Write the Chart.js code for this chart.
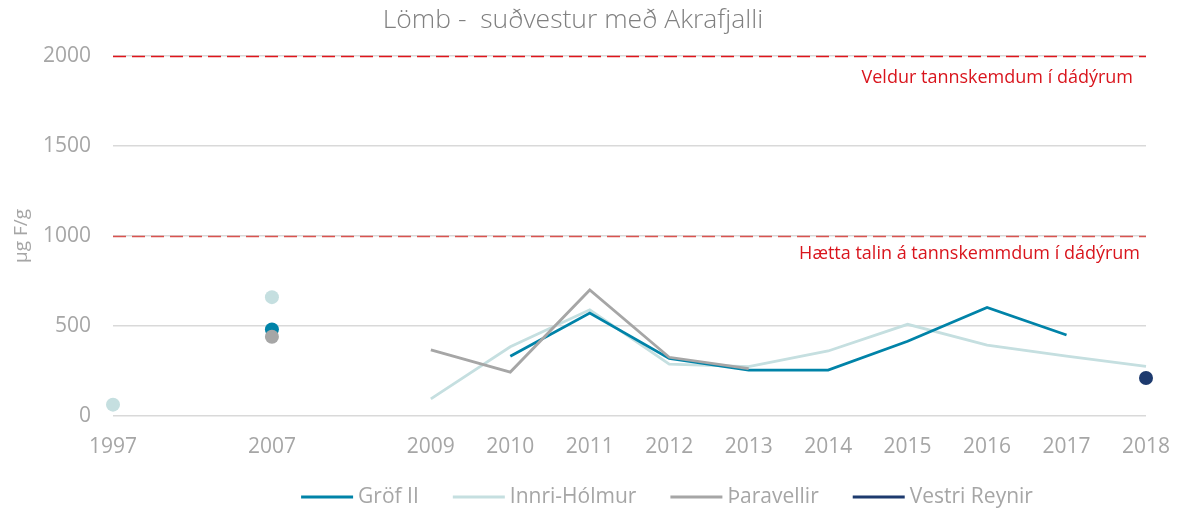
<!DOCTYPE html>
<html>
<head>
<meta charset="utf-8">
<script src="https://cdn.jsdelivr.net/npm/chart.js@4"></script>
<style>
  html, body { margin: 0; padding: 0; background: #fff; }
  #wrap { width: 1180px; height: 510px; }
</style>
</head>
<body>
<div id="wrap"><canvas id="c" width="1180" height="510"></canvas></div>
<script>
// Sampling years (blank slots keep the time spacing between 1997, 2007 and 2009)
const categories = ['1997', '', '2007', '', '2009', '2010', '2011', '2012', '2013', '2014', '2015', '2016', '2017', '2018'];

// Fluoride in lamb bone, µg F/g
const grofII       = [null, null, 480, null, null, 332, 572, 320, 255, 255, 415, 603, 450, null];
const innriHolmur  = [63, null, 660, null, 95, 384, 590, 288, 274, 361, 509, 394, 333, 276];
const tharavellir  = [null, null, 440, null, 367, 244, 700, 326, 263, null, null, null, null, null];
const vestriReynir = [null, null, null, null, null, null, null, null, null, null, null, null, null, 211];

// Reference limits and their captions
const limitValues = [2000, 1000];
const limitLabels = ['Veldur tannskemdum í dádýrum', 'Hætta talin á tannskemmdum í dádýrum'];

const yTicks = [0, 500, 1000, 1500, 2000];

const FONT = "'Open Sans', 'DejaVu Sans', sans-serif";
const GREY = '#a6a6a6';

// Isolated values (no neighbour on either side) are shown as dots
function isolatedRadius(ctx) {
  const d = ctx.dataset.data;
  const i = ctx.dataIndex;
  if (d[i] == null) return 0;
  const prev = i > 0 ? d[i - 1] : null;
  const next = i < d.length - 1 ? d[i + 1] : null;
  return (prev == null && next == null) ? 7 : 0;
}

// Dashed limit lines with captions underneath
const limitLines = {
  id: 'limitLines',
  beforeDatasetsDraw(chart) {
    const { ctx, chartArea, scales } = chart;
    const y = scales.y;
    ctx.save();
    limitValues.forEach((v, k) => {
      const py = Math.round(y.getPixelForValue(v)) + 0.5;
      ctx.beginPath();
      ctx.setLineDash([13, 6]);
      ctx.lineWidth = 1.6;
      ctx.strokeStyle = k === 0 ? '#e0141b' : '#d9534f';
      ctx.moveTo(chartArea.left, py);
      ctx.lineTo(chartArea.right, py);
      ctx.stroke();
    });
    ctx.setLineDash([]);
    ctx.fillStyle = '#d9151d';
    ctx.font = '18px ' + FONT;
    ctx.textAlign = 'right';
    ctx.textBaseline = 'middle';
    ctx.fillText(limitLabels[0], chartArea.right - 13, y.getPixelForValue(limitValues[0]) + 22);
    ctx.fillText(limitLabels[1], chartArea.right - 6, y.getPixelForValue(limitValues[1]) + 18);
    ctx.restore();
  }
};

const series = [
  { label: 'Gröf II', data: grofII, color: '#0083a8', order: 2 },
  { label: 'Innri-Hólmur', data: innriHolmur, color: '#c5dfe0', order: 3 },
  { label: 'Þaravellir', data: tharavellir, color: '#a6a6a6', order: 1 },
  { label: 'Vestri Reynir', data: vestriReynir, color: '#1d3a6e', order: 0 }
];

// Legend row: short line sample followed by the series name
const lineLegend = {
  id: 'lineLegend',
  afterDraw(chart) {
    const { ctx } = chart;
    const sample = 52, gap = 5, spacing = 34, y = 497;
    ctx.save();
    ctx.font = '21px ' + FONT;
    ctx.textBaseline = 'middle';
    ctx.textAlign = 'left';
    const widths = series.map(s => sample + gap + ctx.measureText(s.label).width);
    const total = widths.reduce((a, b) => a + b, 0) + spacing * (series.length - 1);
    let x = 667 - total / 2;
    series.forEach((s, i) => {
      ctx.strokeStyle = s.color;
      ctx.lineWidth = 3;
      ctx.beginPath();
      ctx.moveTo(x, y);
      ctx.lineTo(x + sample, y);
      ctx.stroke();
      ctx.fillStyle = GREY;
      ctx.fillText(s.label, x + sample + gap, y);
      x += widths[i] + spacing;
    });
    ctx.restore();
  }
};

new Chart(document.getElementById('c'), {
  type: 'line',
  data: {
    labels: categories,
    datasets: series.map(s => ({
      label: s.label,
      data: s.data,
      borderColor: s.color,
      backgroundColor: s.color,
      pointBackgroundColor: s.color,
      pointBorderWidth: 0,
      pointRadius: isolatedRadius,
      pointHoverRadius: isolatedRadius,
      borderWidth: 2.8,
      tension: 0,
      spanGaps: false,
      order: s.order
    }))
  },
  options: {
    responsive: false,
    animation: false,
    layout: { padding: { left: 0, right: 34, top: 0, bottom: 51 } },
    plugins: {
      title: {
        display: true,
        text: 'Lömb -  suðvestur með Akrafjalli',
        color: '#808080',
        font: { family: FONT, size: 26.5, weight: '300' },
        padding: { top: 5, bottom: 19 }
      },
      legend: { display: false },
      tooltip: { enabled: false }
    },
    scales: {
      x: {
        offset: false,
        grid: { display: false, drawTicks: false },
        border: { display: false },
        afterFit(scale) {
          scale.height = 43;
          scale.paddingLeft = 0;
          scale.paddingRight = 0;
        },
        ticks: {
          color: GREY,
          font: { family: FONT, size: 21 },
          autoSkip: false,
          maxRotation: 0,
          padding: 18
        }
      },
      y: {
        min: 0,
        max: 2000,
        afterBuildTicks(scale) { scale.ticks = yTicks.map(v => ({ value: v })); },
        afterFit(scale) { scale.width = 113; },
        grid: { color: '#d9d9d9', lineWidth: 1.5, drawTicks: false },
        border: { display: false },
        ticks: {
          color: GREY,
          font: { family: FONT, size: 21 },
          padding: 22,
          callback: v => String(v)
        },
        title: {
          display: true,
          text: 'µg F/g',
          color: GREY,
          font: { family: FONT, size: 19 },
          padding: { top: 10, bottom: 9 }
        }
      }
    }
  },
  plugins: [limitLines, lineLegend]
});
</script>
</body>
</html>
